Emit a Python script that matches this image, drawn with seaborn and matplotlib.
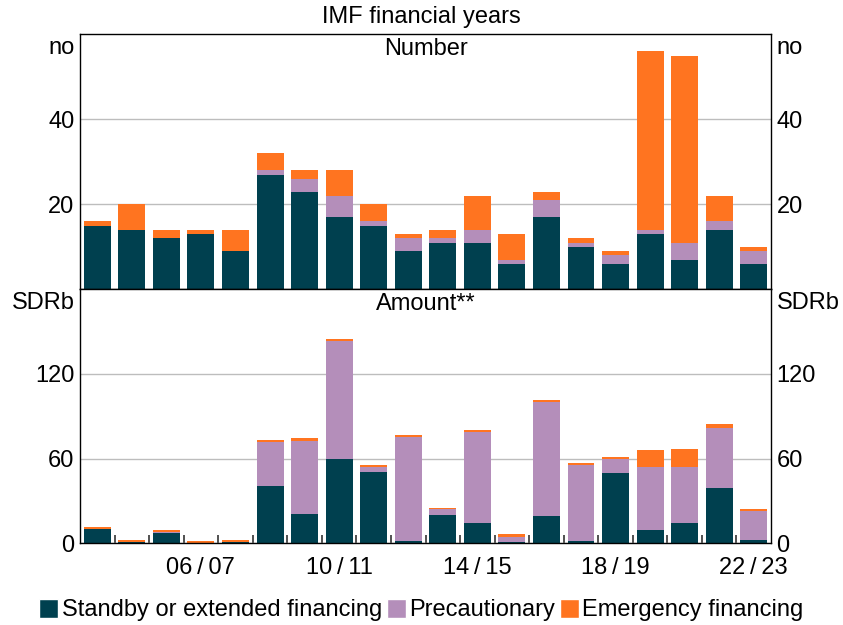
import numpy as np
import pandas as pd
import matplotlib
matplotlib.use('Agg')
import matplotlib.pyplot as plt
from matplotlib.patches import Patch
import seaborn as sns

# IMF financial years, 2003/04 to 2022/23
years = ['03/04', '04/05', '05/06', '06/07', '07/08', '08/09', '09/10', '10/11',
         '11/12', '12/13', '13/14', '14/15', '15/16', '16/17', '17/18', '18/19',
         '19/20', '20/21', '21/22', '22/23']

# Number of arrangements
num_standby = [15, 14, 12, 13, 9, 27, 23, 17, 15, 9, 11, 11, 6, 17, 10, 6, 13, 7, 14, 6]
num_precaution = [0, 0, 0, 0, 0, 1, 3, 5, 1, 3, 1, 3, 1, 4, 1, 2, 1, 4, 2, 3]
num_emergency = [1, 6, 2, 1, 5, 4, 2, 6, 4, 1, 2, 8, 6, 2, 1, 1, 42, 44, 6, 1]

# Amount, SDR billions
amt_standby = [10.4, 1.2, 7.6, 0.3, 1.0, 40.3, 20.9, 60.0, 50.3, 1.9,
               20.2, 14.7, 0.7, 19.7, 1.7, 50.0, 9.7, 14.7, 38.9, 2.1]
amt_precaution = [0, 0, 0.3, 0, 0, 31.3, 51.9, 83.5, 3.8, 73.5,
                  3.8, 64.0, 4.0, 80.1, 53.6, 9.8, 44.6, 39.6, 42.9, 20.7]
amt_emergency = [1.5, 1.4, 1.2, 1.4, 1.5, 1.5, 1.5, 1.5, 1.2, 1.2,
                 1.3, 1.3, 1.9, 1.5, 1.5, 1.2, 11.6, 12.8, 2.6, 1.2]

shown_years = ['06/07', '10/11', '14/15', '18/19', '22/23']

c_standby = '#00404F'
c_precaution = '#B48EBA'
c_emergency = '#FF7420'

sns.set_style('white')
plt.rcParams['font.family'] = ['Liberation Sans', 'DejaVu Sans']
plt.rcParams['text.color'] = 'black'
plt.rcParams['xtick.color'] = 'black'
plt.rcParams['ytick.color'] = 'black'
fs = 17

fig = plt.figure(figsize=(8.43, 6.25), dpi=100)
ax1 = fig.add_axes([0.0949, 0.5371, 0.8197, 0.408])
ax2 = fig.add_axes([0.0949, 0.1307, 0.8197, 0.4064])


def stacked(ax, a, b, c):
    df = pd.DataFrame({'year': years, 'a': a, 'b': b, 'c': c})
    df['ab'] = df['a'] + df['b']
    df['abc'] = df['ab'] + df['c']
    for col, colour in [('abc', c_emergency), ('ab', c_precaution), ('a', c_standby)]:
        sns.barplot(data=df, x='year', y=col, color=colour, saturation=1,
                    width=0.78, linewidth=0, ax=ax)
    ax.set_xlim(-0.5, len(years) - 0.5)
    ax.set_xlabel('')
    ax.set_ylabel('')
    ax.grid(axis='y', color='#BDBDBD', linewidth=1)
    ax.set_axisbelow(True)
    for s in ax.spines.values():
        s.set_visible(True)
        s.set_color('black')
        s.set_linewidth(1)


stacked(ax1, num_standby, num_precaution, num_emergency)
stacked(ax2, amt_standby, amt_precaution, amt_emergency)

# top panel
ax1.set_ylim(0, 60)
ax1.set_yticks([20, 40])
ax1.set_xticks([])
ax1.tick_params(axis='y', length=0, labelsize=fs, labelleft=True, labelright=True, pad=4)
ax1.text(0.5, 0.985, 'Number', transform=ax1.transAxes, ha='center', va='top', fontsize=fs)
ax1.text(-0.008, 0.99, 'no', transform=ax1.transAxes, ha='right', va='top', fontsize=fs)
ax1.text(1.008, 0.99, 'no', transform=ax1.transAxes, ha='left', va='top', fontsize=fs)

# bottom panel
ax2.set_ylim(0, 180)
ax2.set_yticks([0, 60, 120])
ax2.tick_params(axis='y', length=0, labelsize=fs, labelleft=True, labelright=True, pad=4)
ax2.set_xticks([years.index(y) for y in shown_years])
ax2.set_xticklabels([y.replace('/', '\u2009/\u2009') for y in shown_years])
ax2.tick_params(axis='x', which='major', length=0, labelsize=fs, pad=10)
ax2.set_xticks(np.arange(0.5, len(years) - 1, 1), minor=True)
ax2.tick_params(axis='x', which='minor', direction='in', length=6, width=1.2,
                color='#333333', bottom=True)
ax2.text(0.5, 0.985, 'Amount**', transform=ax2.transAxes, ha='center', va='top', fontsize=fs)
ax2.text(-0.008, 0.99, 'SDRb', transform=ax2.transAxes, ha='right', va='top', fontsize=fs)
ax2.text(1.008, 0.99, 'SDRb', transform=ax2.transAxes, ha='left', va='top', fontsize=fs)

fig.text(0.5, 0.973, 'IMF financial years', ha='center', va='center', fontsize=fs)

handles = [Patch(facecolor=c_standby, label='Standby or extended financing'),
           Patch(facecolor=c_precaution, label='Precautionary'),
           Patch(facecolor=c_emergency, label='Emergency financing')]
fig.legend(handles=handles, loc='center', bbox_to_anchor=(0.5, 0.024), ncol=3,
           frameon=False, fontsize=fs, handlelength=0.8, handleheight=0.9,
           handletextpad=0.15, columnspacing=0.2, borderaxespad=0)

fig.savefig('out.png', dpi=100)
